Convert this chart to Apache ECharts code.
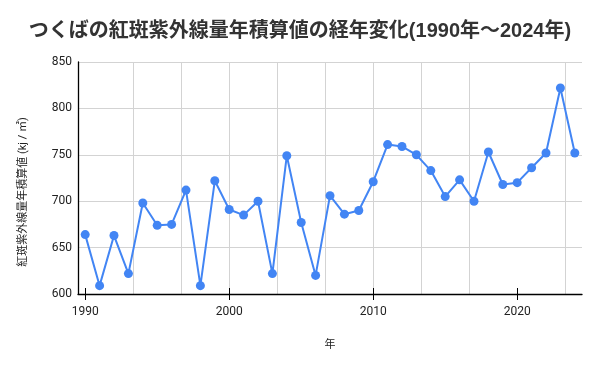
<!DOCTYPE html>
<html>
<head>
<meta charset="utf-8">
<script src="https://cdn.jsdelivr.net/npm/echarts@6/dist/echarts.min.js"></script>
<style>html,body{margin:0;padding:0;background:#fff}#c{width:600px;height:371px}</style>
</head>
<body>
<div id="c"></div>
<script>
const years = [1990,1991,1992,1993,1994,1995,1996,1997,1998,1999,2000,2001,2002,2003,2004,2005,2006,2007,2008,2009,2010,2011,2012,2013,2014,2015,2016,2017,2018,2019,2020,2021,2022,2023,2024];
const values = [664,609,663,622,698,674,675,712,609,722,691,685,700,622,749,677,620,706,686,690,721,761,759,750,733,705,723,700,753,718,720,736,752,822,752];
const xTickLabels = [1990,2000,2010,2020];
const yMin = 600, yMax = 850, yStep = 50;
const titleText = 'つくばの紅斑紫外線量年積算値の経年変化(1990年～2024年)';
const yName = '紅斑紫外線量年積算値 (kj / ㎡)';
const xName = '年';

const fontCJK = 'Roboto, "Noto Sans CJK JP", sans-serif';
const chart = echarts.init(document.getElementById('c'), null, {renderer:'canvas'});
const pts = years.map((y,i)=>[y, values[i]]);
const gridColor = '#d3d3d3';
chart.setOption({
  animation:false,
  backgroundColor:'#fff',
  title:{text:titleText,left:'center',top:16,textStyle:{fontSize:20,fontWeight:'bold',color:'#333',fontFamily:'"Liberation Sans", "Noto Sans CJK JP", sans-serif'}},
  grid:{left:78,right:18,top:62,bottom:77,containLabel:false},
  xAxis:[{
    type:'value',min:1989.5,max:2024.5,splitNumber:5,
    name:xName,nameLocation:'middle',nameGap:46,
    nameTextStyle:{fontSize:11,color:'#222',fontFamily:fontCJK},
    axisLine:{show:true,lineStyle:{color:'#000',width:1.3}},
    axisTick:{show:true,length:6,customValues:xTickLabels,lineStyle:{color:'#000'}},
    axisLabel:{margin:12,fontSize:12,color:'#222',fontFamily:fontCJK,customValues:xTickLabels,formatter:v=>String(v)},
    splitLine:{show:true,showMinLine:false,showMaxLine:false,lineStyle:{color:gridColor}},
    minorTick:{show:false,splitNumber:3},
    minorSplitLine:{show:true,lineStyle:{color:gridColor}}
  },{
    type:'value',min:1989.5,max:2024.5,splitNumber:5,position:'bottom',
    axisLine:{show:false},
    axisTick:{show:true,inside:true,length:6,customValues:xTickLabels,lineStyle:{color:'#000'}},
    axisLabel:{show:false},
    splitLine:{show:false}
  }],
  yAxis:{
    type:'value',min:yMin,max:yMax,interval:yStep,
    name:yName,nameLocation:'middle',nameGap:49,
    nameTextStyle:{fontSize:11,color:'#222',fontFamily:fontCJK,padding:[0,28,0,0]},
    axisLine:{show:true,lineStyle:{color:'#000',width:1.3}},
    axisTick:{show:false},
    axisLabel:{margin:6,fontSize:12,color:'#222',fontFamily:fontCJK},
    splitLine:{show:true,lineStyle:{color:gridColor}}
  },
  series:[{
    type:'line',xAxisIndex:0,data:pts,
    symbol:'circle',symbolSize:9,
    itemStyle:{color:'#4285F4'},
    lineStyle:{color:'#4285F4',width:2}
  }]
});
</script>
</body>
</html>
